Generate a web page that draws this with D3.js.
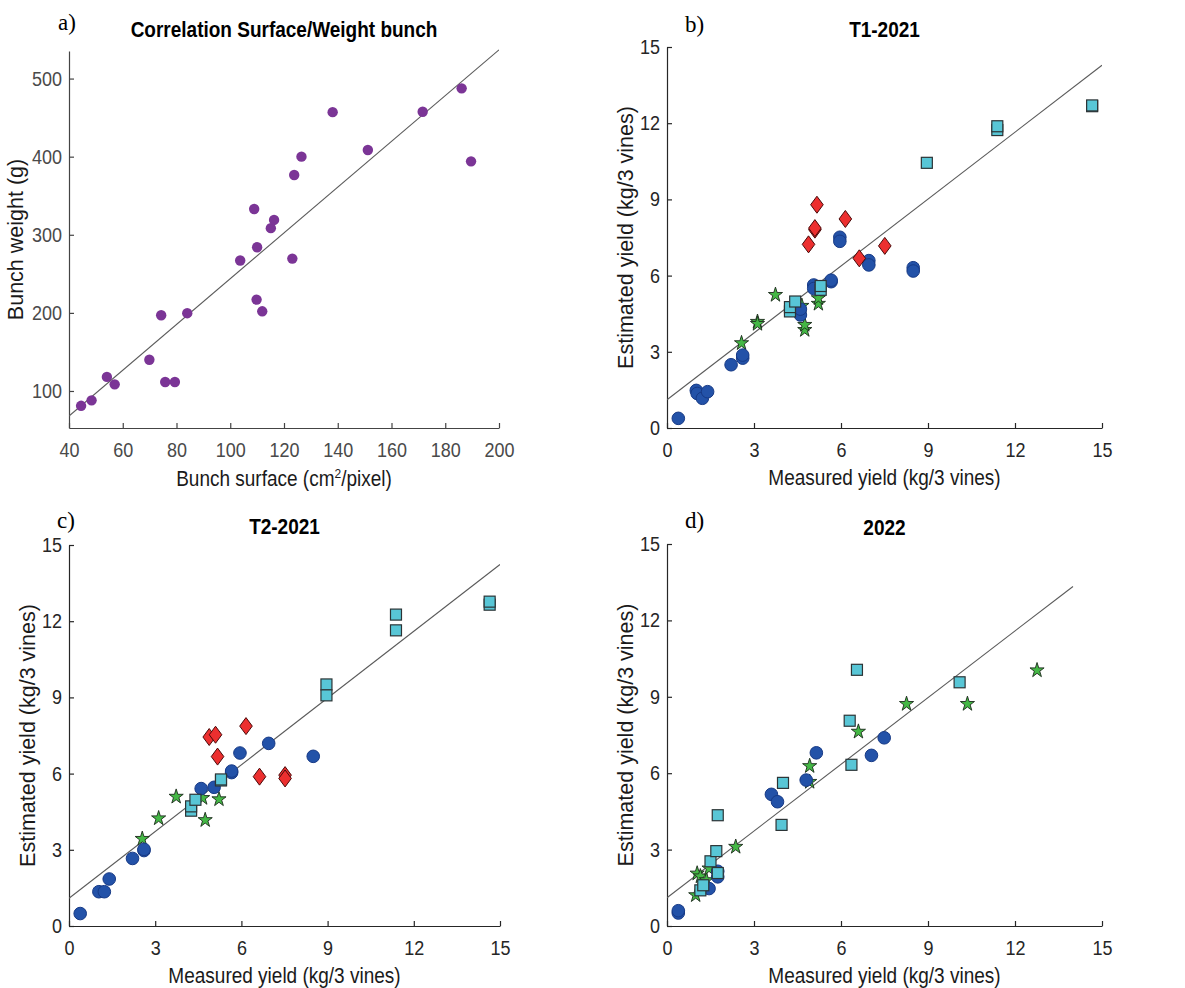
<!DOCTYPE html>
<html>
<head>
<meta charset="utf-8">
<script src="https://cdn.jsdelivr.net/npm/d3@7"></script>
<style>
  body { margin: 0; background: #fff; }
  svg { font-family: "Liberation Sans", Arial, sans-serif; }
</style>
</head>
<body>
<div id="container"></div>
<script>
/* DATA */

// a) bunch surface vs bunch weight
const surface = [44.5, 48.4, 54.1, 57.0, 69.9, 74.3, 75.8, 79.4, 84.0, 103.7, 108.9, 110.0,
  109.8, 111.9, 115.1, 116.3, 123.1, 123.8, 126.5, 138.1, 151.2, 171.6, 186.1, 189.6];
const weight = [81, 88, 118, 108.5, 140, 197, 111.5, 111.5, 199.6, 267, 333, 284,
  217, 202, 308.5, 319, 269.5, 376.5, 400, 457, 408.5, 457.5, 487.5, 394];

// b) T1-2021  [measured, estimated]
const t1Stars = [[2.57, 3.34], [3.12, 4.18], [3.12, 4.10], [3.74, 5.24], [4.75, 3.86], [4.75, 4.06],
  [4.65, 4.81], [5.22, 4.89], [5.22, 5.11]];
const t1Circles = [[0.39, 0.38], [1.01, 1.48], [1.04, 1.36], [1.22, 1.17], [1.40, 1.43], [2.21, 2.49],
  [2.61, 2.75], [2.61, 2.87], [4.60, 4.45], [4.60, 4.68], [5.06, 5.63], [5.06, 5.49], [5.66, 5.76],
  [5.66, 5.82], [5.96, 7.51], [5.96, 7.35], [6.96, 6.59], [6.96, 6.42], [8.49, 6.31], [8.49, 6.18]];
const t1Diamonds = [[4.88, 7.23], [5.10, 7.81], [5.10, 7.87], [5.17, 8.79], [6.15, 8.23], [6.63, 6.68],
  [7.51, 7.17]];
const t1Squares = [[4.24, 4.59], [4.24, 4.76], [4.42, 4.98], [5.30, 5.44], [5.30, 5.59], [8.96, 10.44],
  [11.39, 11.73], [11.39, 11.88], [14.66, 12.67], [14.66, 12.70]];

// c) T2-2021
const t2Stars = [[2.55, 3.43], [3.12, 4.24], [3.73, 5.09], [4.65, 5.04], [4.74, 4.17], [5.22, 4.99]];
const t2Circles = [[0.39, 0.49], [1.04, 1.35], [1.23, 1.35], [1.40, 1.85], [2.21, 2.66], [2.61, 2.97],
  [2.61, 3.02], [4.60, 5.41], [5.05, 5.46], [5.66, 6.04], [5.66, 6.10], [5.95, 6.81], [6.95, 7.19],
  [8.50, 6.68]];
const t2Diamonds = [[4.88, 7.44], [5.10, 7.53], [5.17, 6.67], [6.16, 7.87], [6.63, 5.88], [7.52, 5.94],
  [7.52, 5.81]];
const t2Squares = [[4.25, 4.54], [4.25, 4.71], [4.40, 4.97], [5.29, 5.73], [5.29, 5.77], [8.96, 9.51],
  [8.96, 9.08], [11.38, 12.26], [11.38, 11.64], [14.64, 12.65], [14.64, 12.77]];

// d) 2022
const y22Stars = [[0.99, 1.21], [1.04, 2.06], [1.15, 1.95], [1.36, 1.80], [1.45, 2.26], [2.37, 3.11],
  [4.92, 6.28], [4.92, 5.66], [6.60, 7.63], [8.26, 8.72], [10.36, 8.72], [12.76, 10.04]];
const y22Circles = [[0.39, 0.51], [0.39, 0.60], [1.45, 1.47], [1.75, 1.93], [1.75, 2.15], [3.60, 5.17],
  [3.81, 4.88], [4.80, 5.73], [5.15, 6.80], [7.05, 6.70], [7.49, 7.39]];
const y22Diamonds = [];
const y22Squares = [[1.15, 1.40], [1.25, 1.60], [1.50, 2.54], [1.70, 2.94], [1.75, 2.08], [1.75, 4.35],
  [3.95, 3.97], [4.00, 5.62], [6.30, 8.06], [6.36, 6.33], [6.55, 10.06], [10.09, 9.57]];

// regression lines (a, b, c, d)
const fitIntercept = [-49.2, 1.11, 1.09, 1.11];
const fitSlope = [2.93, 0.878, 0.876, 0.873];
const fitStart = [40, 0, 0, 0];
const fitEnd = [200, 15, 15, 14];

// ticks
const surfaceTicks = [40, 60, 80, 100, 120, 140, 160, 180, 200];
const weightTicks = [100, 200, 300, 400, 500];
const yieldTicks = [0, 3, 6, 9, 12, 15];

/* CONSTANTS */
const width = 1185, height = 988,
  stretch = 1.13; // the source figure's text is a bit taller than wide

const svg = d3.select("#container")
  .append("svg")
  .attr("width", width)
  .attr("height", height);

const panels = [
  { letter: "a)", letterX: 58, letterY: 30, title: "Correlation Surface/Weight bunch", titleY: 37,
    left: 69, right: 499, top: 51, bottom: 428, xDomain: [40, 200], yDomain: [52.6, 535.3],
    xTicks: surfaceTicks, yTicks: weightTicks, ylabel: "Bunch weight (g)", ylabelX: 23,
    xlabelY: 486, axisColor: "#444", tickColor: "#4a4a4a" },
  { letter: "b)", letterX: 685, letterY: 32, title: "T1-2021", titleY: 37,
    left: 667, right: 1102, top: 47, bottom: 428, xDomain: [0, 15], yDomain: [0, 15],
    xTicks: yieldTicks, yTicks: yieldTicks, ylabel: "Estimated yield (kg/3 vines)", ylabelX: 633,
    xlabel: "Measured yield (kg/3 vines)", xlabelY: 485, axisColor: "#262626", tickColor: "#262626",
    series: [t1Stars, t1Circles, t1Diamonds, t1Squares] },
  { letter: "c)", letterX: 57, letterY: 528, title: "T2-2021", titleY: 534,
    left: 69, right: 500, top: 545, bottom: 926, xDomain: [0, 15], yDomain: [0, 15],
    xTicks: yieldTicks, yTicks: yieldTicks, ylabel: "Estimated yield (kg/3 vines)", ylabelX: 35,
    xlabel: "Measured yield (kg/3 vines)", xlabelY: 983, axisColor: "#262626", tickColor: "#262626",
    series: [t2Stars, t2Circles, t2Diamonds, t2Squares] },
  { letter: "d)", letterX: 685, letterY: 528, title: "2022", titleY: 535,
    left: 667, right: 1102, top: 544, bottom: 926, xDomain: [0, 15], yDomain: [0, 15],
    xTicks: yieldTicks, yTicks: yieldTicks, ylabel: "Estimated yield (kg/3 vines)", ylabelX: 633,
    xlabel: "Measured yield (kg/3 vines)", xlabelY: 983, axisColor: "#262626", tickColor: "#262626",
    series: [y22Stars, y22Circles, y22Diamonds, y22Squares] }
];

// marker shapes
const diamondPath = "M0,-8.5L6.3,0L0,8.5L-6.3,0Z";
const starPath = d3.symbol().type(d3.symbolStar).size(62)();

panels.forEach((p, i) => {
  const xScale = d3.scaleLinear().domain(p.xDomain).range([p.left, p.right]);
  const yScale = d3.scaleLinear().domain(p.yDomain).range([p.bottom, p.top]);

  const g = svg.append("g");

  // axes (inward ticks, MATLAB style)
  const xAxis = d3.axisBottom(xScale).tickValues(p.xTicks)
    .tickSizeInner(-5).tickSizeOuter(0).tickPadding(13);
  const yAxis = d3.axisLeft(yScale).tickValues(p.yTicks)
    .tickSizeInner(-5).tickSizeOuter(0).tickPadding(7);

  const gx = g.append("g")
    .attr("transform", `translate(0,${p.bottom})`)
    .call(xAxis);
  const gy = g.append("g")
    .attr("transform", `translate(${p.left},0)`)
    .call(yAxis);

  [gx, gy].forEach(ax => {
    ax.select(".domain").attr("stroke", p.axisColor).attr("stroke-width", 1.2);
    ax.selectAll(".tick line").attr("stroke", p.axisColor).attr("stroke-width", 1.2);
    ax.selectAll(".tick text")
      .attr("fill", p.tickColor)
      .attr("transform", `scale(1,${stretch})`)
      .style("font-size", "18px")
      .style("font-family", "'Liberation Sans', Arial, sans-serif");
  });

  // clip for the fit line
  const clipId = "clip" + i;
  svg.append("clipPath").attr("id", clipId)
    .append("rect")
    .attr("x", p.left).attr("y", p.top - 4)
    .attr("width", p.right - p.left).attr("height", p.bottom - p.top + 4);

  // regression line
  g.append("line")
    .attr("clip-path", `url(#${clipId})`)
    .attr("x1", xScale(fitStart[i]))
    .attr("y1", yScale(fitIntercept[i] + fitSlope[i] * fitStart[i]))
    .attr("x2", xScale(fitEnd[i]))
    .attr("y2", yScale(fitIntercept[i] + fitSlope[i] * fitEnd[i]))
    .attr("stroke", "#5a5a5a")
    .attr("stroke-width", 1.1);

  if (i === 0) {
    g.selectAll(".dot")
      .data(d3.zip(surface, weight))
      .join("circle")
      .attr("class", "dot")
      .attr("cx", d => xScale(d[0]))
      .attr("cy", d => yScale(d[1]))
      .attr("r", 5.2)
      .attr("fill", "#7b3596");
  } else {
    const [stars, circles, diamonds, squares] = p.series;

    g.selectAll(".star")
      .data(stars)
      .join("path")
      .attr("class", "star")
      .attr("d", starPath)
      .attr("transform", d => `translate(${xScale(d[0])},${yScale(d[1])}) scale(1,1.05)`)
      .attr("fill", "#44b845")
      .attr("stroke", "#1d2e1d")
      .attr("stroke-width", 0.9);

    g.selectAll(".circ")
      .data(circles)
      .join("circle")
      .attr("class", "circ")
      .attr("cx", d => xScale(d[0]))
      .attr("cy", d => yScale(d[1]))
      .attr("r", 6.3)
      .attr("fill", "#2352a8")
      .attr("stroke", "#173a86")
      .attr("stroke-width", 1);

    g.selectAll(".diam")
      .data(diamonds)
      .join("path")
      .attr("class", "diam")
      .attr("d", diamondPath)
      .attr("transform", d => `translate(${xScale(d[0])},${yScale(d[1])})`)
      .attr("fill", "#ec2f2f")
      .attr("stroke", "#4a0a0a")
      .attr("stroke-width", 1);

    g.selectAll(".sq")
      .data(squares)
      .join("rect")
      .attr("class", "sq")
      .attr("x", d => xScale(d[0]) - 5.5)
      .attr("y", d => yScale(d[1]) - 5.5)
      .attr("width", 11)
      .attr("height", 11)
      .attr("fill", "#58c6d6")
      .attr("stroke", "#2c3436")
      .attr("stroke-width", 1.2);
  }

  // panel letter
  svg.append("text")
    .attr("x", p.letterX)
    .attr("y", p.letterY)
    .style("font-family", "'Liberation Serif', 'Times New Roman', serif")
    .style("font-size", "23px")
    .text(p.letter);

  // title
  svg.append("text")
    .attr("transform", `translate(${(p.left + p.right) / 2},${p.titleY}) scale(1,${stretch})`)
    .attr("text-anchor", "middle")
    .style("font-size", "19px")
    .style("font-weight", "bold")
    .text(p.title);

  // x label
  const xl = svg.append("text")
    .attr("transform", `translate(${(p.left + p.right) / 2},${p.xlabelY}) scale(1,${stretch})`)
    .attr("text-anchor", "middle")
    .attr("fill", "#1a1a1a")
    .style("font-size", "19px");
  if (i === 0) {
    xl.append("tspan").text("Bunch surface (cm");
    xl.append("tspan").attr("dy", -7).style("font-size", "12px").text("2");
    xl.append("tspan").attr("dy", 7).text("/pixel)");
  } else {
    xl.text(p.xlabel);
  }

  // y label
  svg.append("text")
    .attr("transform", `translate(${p.ylabelX},${(p.top + p.bottom) / 2}) rotate(-90)`)
    .attr("text-anchor", "middle")
    .attr("fill", "#1a1a1a")
    .style("font-size", "21.5px")
    .text(p.ylabel);
});
</script>
</body>
</html>
